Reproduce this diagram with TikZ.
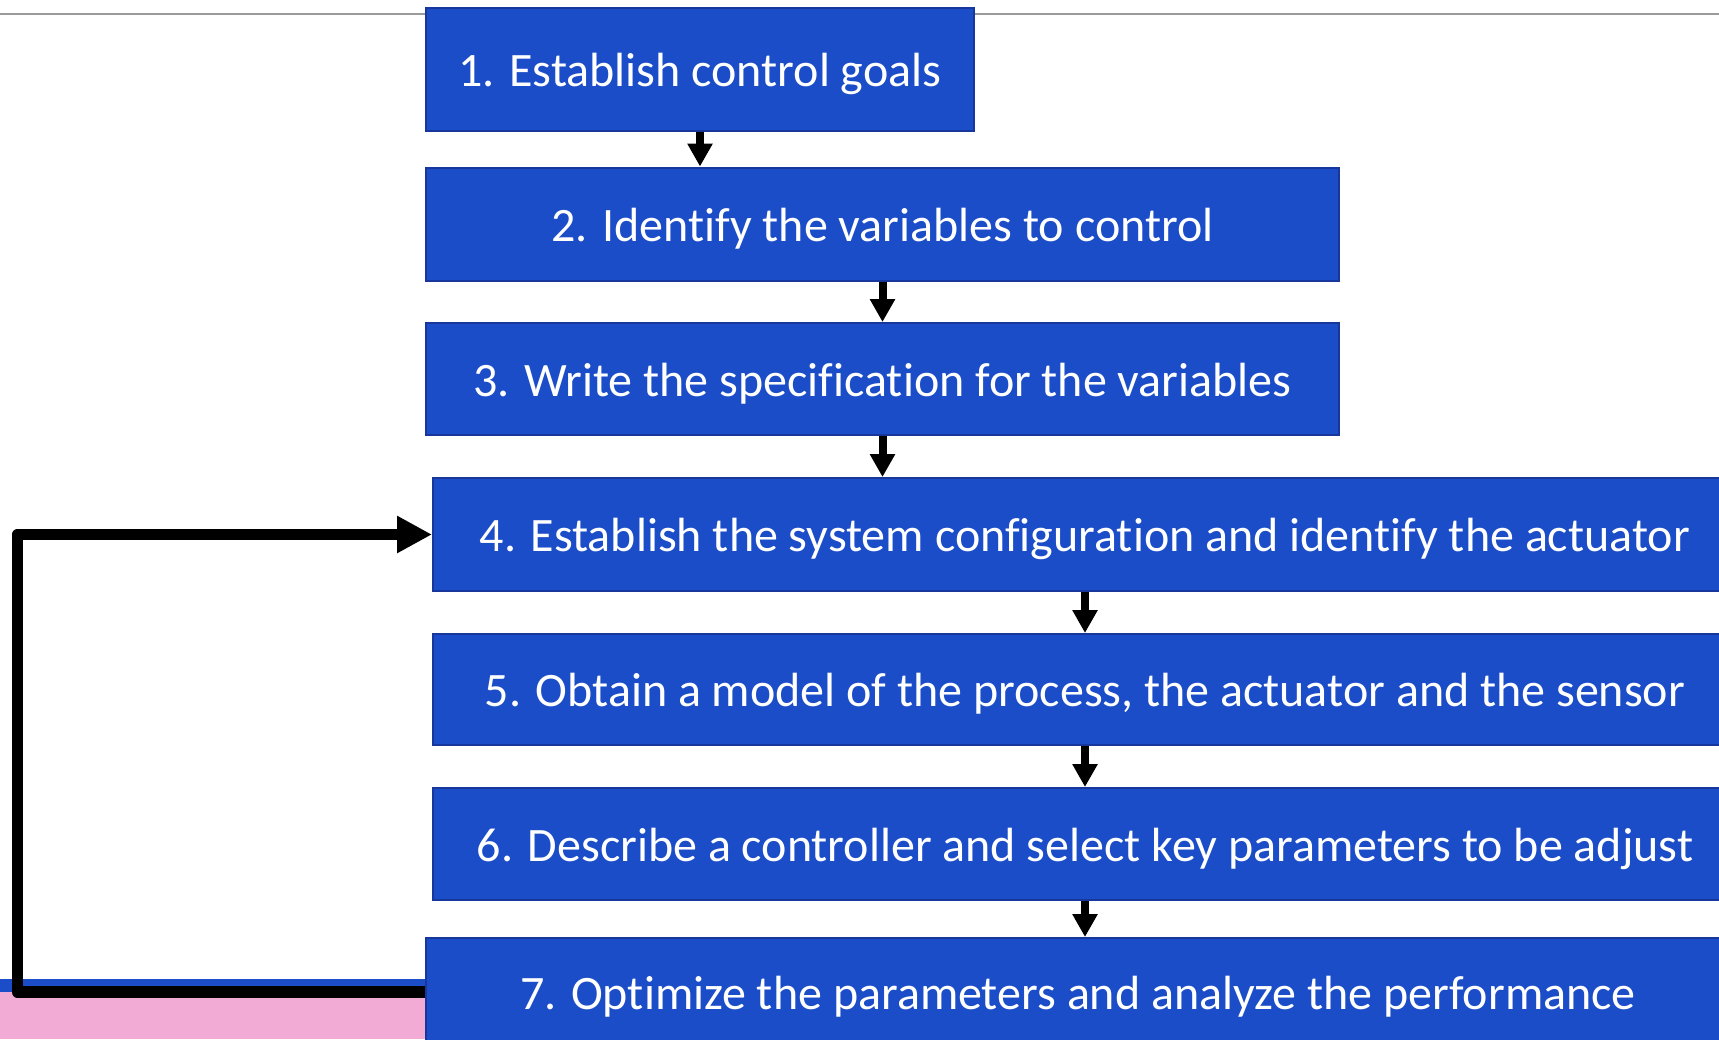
\documentclass[tikz,border=0pt]{standalone}
\usepackage{fontspec}
\setmainfont{Carlito}[Ligatures=NoCommon]
\usetikzlibrary{arrows.meta}
\definecolor{boxfill}{HTML}{1C4DC8}
\definecolor{boxedge}{HTML}{17379C}
\definecolor{stripblue}{HTML}{1C4DC8}
\definecolor{strippink}{HTML}{F2ABD4}
\definecolor{rulegray}{HTML}{9A9A9A}
\begin{document}
\begin{tikzpicture}[x=0.5pt,y=-0.5pt,
  stepbox/.style={draw=boxedge, line width=1pt, fill=boxfill, text=white,
    font=\fontsize{24}{28}\selectfont, inner sep=0pt, anchor=center,
    text height=17pt, text depth=0pt},
  down/.style={draw=black, line width=4pt, -{Triangle[length=11.5pt,width=12pt]}},
  loopback/.style={draw=black, line width=5.8pt, line join=round,
    -{Triangle[length=17.5pt,width=17.5pt]}}]
\useasboundingbox (0,0) rectangle (1719,1039);
\clip (0,0) rectangle (1719,1039);
% background, top rule and the coloured strips at the lower left
\fill[white] (0,0) rectangle (1719,1039);
\draw[rulegray, line width=1pt] (0,13.5) -- (1719,13.5);
\fill[strippink] (0,992) rectangle (440,1039);
\fill[stripblue] (0,979) rectangle (440,992);

% the seven steps
\node[stepbox, minimum width=274pt, minimum height=61.5pt] (b1) at (700,69.5)
  {1. Establish control goals};
\node[stepbox, minimum width=456.5pt, minimum height=56.5pt] (b2) at (882.5,224)
  {2. Identify the variables to control};
\node[stepbox, minimum width=456.5pt, minimum height=56pt] (b3) at (882.5,379)
  {3. Write the specification for the variables};
\node[stepbox, minimum width=652pt, minimum height=56.5pt] (b4) at (1085,534.5)
  {4. Establish the system configuration and identify the actuator};
\node[stepbox, minimum width=652pt, minimum height=55.5pt] (b5) at (1085,689.5)
  {5. Obtain a model of the process, the actuator and the sensor};
\node[stepbox, minimum width=652pt, minimum height=56pt] (b6) at (1085,844)
  {6. Describe a controller and select key parameters to be adjust};
\node[stepbox, minimum width=652pt, minimum height=54pt] (b7) at (1078,992)
  {7. Optimize the parameters and analyze the performance};

% step-to-step arrows
\draw[down] (b1.south) -- (b1.south |- b2.north);
\draw[down] (b2.south) -- (b2.south |- b3.north);
\draw[down] (b3.south) -- (b3.south |- b4.north);
\draw[down] (b4.south) -- (b4.south |- b5.north);
\draw[down] (b5.south) -- (b5.south |- b6.north);
\draw[down] (b6.south) -- (b6.south |- b7.north);

% feedback loop from step 7 back to step 4
\coordinate (fb) at (17.5,534.5);
\draw[loopback] (b7.west) -| (fb) -- (b4.west);
\end{tikzpicture}
\end{document}
